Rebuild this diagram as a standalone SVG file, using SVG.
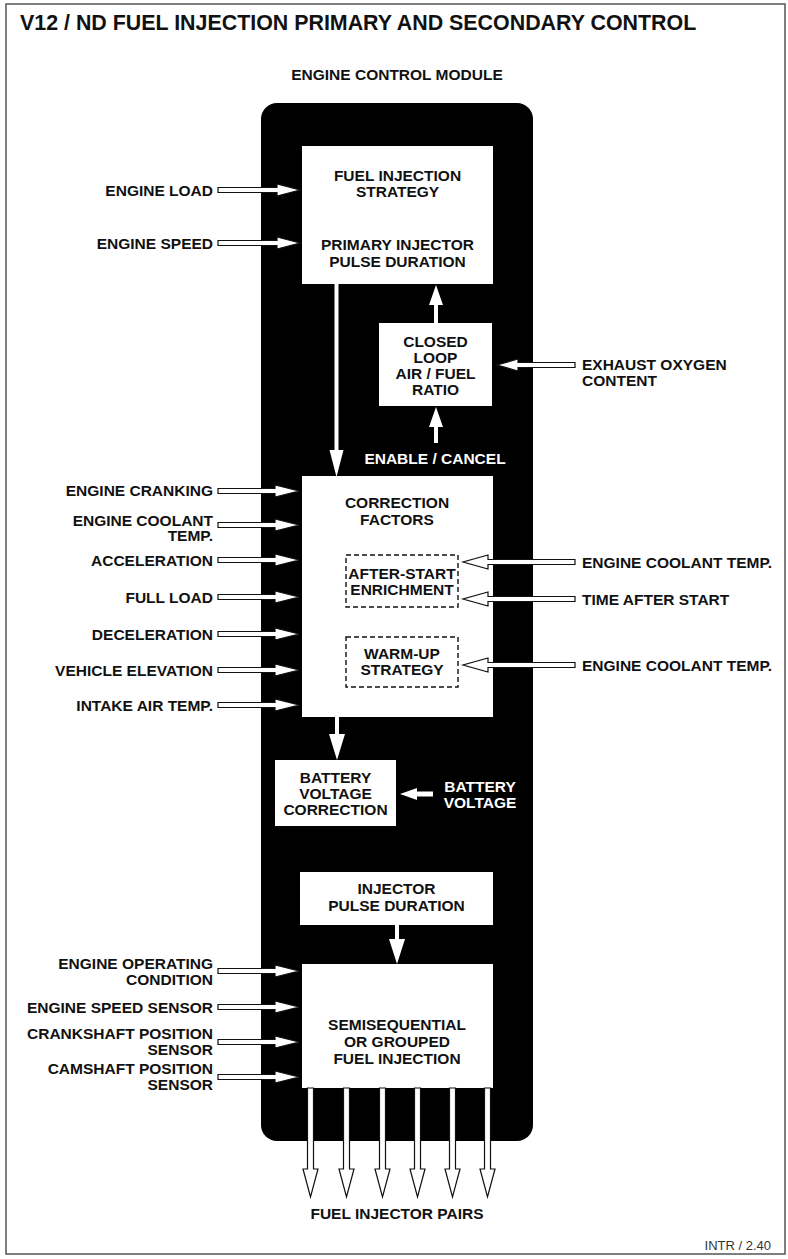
<svg xmlns="http://www.w3.org/2000/svg" width="788" height="1259" viewBox="0 0 788 1259">
<style>
text{font-family:"Liberation Sans",Arial,sans-serif;font-weight:bold;font-size:15.5px;fill:#111}
.c{text-anchor:middle}
.e{text-anchor:end}
.w{fill:#fff}
.box{fill:#fff}
.dash{fill:none;stroke:#111;stroke-width:1.4;stroke-dasharray:5,3}
.arr{fill:#fff;stroke:#111;stroke-width:1.2;stroke-linejoin:miter}
.sol{fill:#fff;stroke:none}
</style>
<rect x="6" y="4" width="779" height="1250" fill="#fff" stroke="#555" stroke-width="1.5"/>
<g id="title"><text x="20" y="30" style="font-size:21.4px">V12 / ND FUEL INJECTION PRIMARY AND SECONDARY CONTROL</text></g>
<g id="ecm">
<text class="c" x="397" y="80">ENGINE CONTROL MODULE</text>
<rect x="261" y="103" width="272" height="1038" rx="16" fill="#000"/>
</g>
<g id="fuel-injection-strategy">
<rect class="box" x="302" y="146" width="191" height="138"/>
<text class="c" x="397.5" y="181">FUEL INJECTION</text>
<text class="c" x="397.5" y="197">STRATEGY</text>
<text class="c" x="397.5" y="250">PRIMARY INJECTOR</text>
<text class="c" x="397.5" y="267">PULSE DURATION</text>
</g>
<g id="closed-loop">
<rect class="box" x="379" y="323" width="113" height="83"/>
<text class="c" x="435.5" y="346.5">CLOSED</text>
<text class="c" x="435.5" y="362.5">LOOP</text>
<text class="c" x="435.5" y="379">AIR / FUEL</text>
<text class="c" x="435.5" y="395">RATIO</text>
</g>
<g id="enable-cancel"><text class="c w" x="435" y="463.5">ENABLE / CANCEL</text></g>
<g id="correction-factors">
<rect class="box" x="302" y="476" width="191" height="241"/>
<text class="c" x="397" y="508">CORRECTION</text>
<text class="c" x="397" y="525">FACTORS</text>
</g>
<g id="after-start">
<rect class="dash" x="346" y="555" width="112" height="52"/>
<text class="c" x="402" y="578.5">AFTER-START</text>
<text class="c" x="402" y="595">ENRICHMENT</text>
</g>
<g id="warm-up">
<rect class="dash" x="346" y="637" width="112" height="50"/>
<text class="c" x="402" y="658.5">WARM-UP</text>
<text class="c" x="402" y="675">STRATEGY</text>
</g>
<g id="battery-correction">
<rect class="box" x="275" y="760" width="121" height="66"/>
<text class="c" x="335.5" y="782.5">BATTERY</text>
<text class="c" x="335.5" y="798.5">VOLTAGE</text>
<text class="c" x="335.5" y="815">CORRECTION</text>
</g>
<g id="battery-voltage">
<text class="c w" x="480" y="792">BATTERY</text>
<text class="c w" x="480" y="808">VOLTAGE</text>
</g>
<g id="injector-pulse">
<rect class="box" x="300" y="872" width="193" height="53"/>
<text class="c" x="396.5" y="894">INJECTOR</text>
<text class="c" x="396.5" y="911">PULSE DURATION</text>
</g>
<g id="semisequential">
<rect class="box" x="302" y="964" width="191" height="124"/>
<text class="c" x="397" y="1030">SEMISEQUENTIAL</text>
<text class="c" x="397" y="1047">OR GROUPED</text>
<text class="c" x="397" y="1064">FUEL INJECTION</text>
</g>
<g id="inputs-left">
<text class="e" x="213" y="195.5">ENGINE LOAD</text>
<text class="e" x="213" y="248.5">ENGINE SPEED</text>
<text class="e" x="213" y="496">ENGINE CRANKING</text>
<text class="e" x="213" y="525.5">ENGINE COOLANT</text>
<text class="e" x="213" y="541">TEMP.</text>
<text class="e" x="213" y="565.5">ACCELERATION</text>
<text class="e" x="213" y="602.5">FULL LOAD</text>
<text class="e" x="213" y="639.5">DECELERATION</text>
<text class="e" x="213" y="675.5">VEHICLE ELEVATION</text>
<text class="e" x="213" y="710.5">INTAKE AIR TEMP.</text>
<text class="e" x="213" y="968.5">ENGINE OPERATING</text>
<text class="e" x="213" y="985">CONDITION</text>
<text class="e" x="213" y="1012.5">ENGINE SPEED SENSOR</text>
<text class="e" x="213" y="1038.5">CRANKSHAFT POSITION</text>
<text class="e" x="213" y="1055">SENSOR</text>
<text class="e" x="213" y="1073.5">CAMSHAFT POSITION</text>
<text class="e" x="213" y="1090">SENSOR</text>
</g>
<g id="inputs-right">
<text x="582" y="369.5">EXHAUST OXYGEN</text>
<text x="582" y="386">CONTENT</text>
<text x="582" y="568">ENGINE COOLANT TEMP.</text>
<text x="582" y="605">TIME AFTER START</text>
<text x="582" y="670.5">ENGINE COOLANT TEMP.</text>
</g>
<g id="outputs"><text class="c" x="397" y="1219">FUEL INJECTOR PAIRS</text></g>
<g id="ref"><text x="771" y="1250" style="font-weight:normal;font-size:13px;fill:#333;text-anchor:end">INTR / 2.40</text></g>
<g id="connectors">
<path class="arr" d="M218,187.5 H277 V184 L300,190 L277,196 V192.5 H218 Z"/>
<path class="arr" d="M218,240.5 H277 V237 L300,243 L277,249 V245.5 H218 Z"/>
<path class="arr" d="M218,488.5 H275 V485 L299,491 L275,497 V493.5 H218 Z"/>
<path class="arr" d="M218,522.5 H275 V519 L299,525 L275,531 V527.5 H218 Z"/>
<path class="arr" d="M218,557.5 H275 V554 L299,560 L275,566 V562.5 H218 Z"/>
<path class="arr" d="M218,594.5 H275 V591 L299,597 L275,603 V599.5 H218 Z"/>
<path class="arr" d="M218,631.5 H275 V628 L299,634 L275,640 V636.5 H218 Z"/>
<path class="arr" d="M218,667.5 H275 V664 L299,670 L275,676 V672.5 H218 Z"/>
<path class="arr" d="M218,702.5 H275 V699 L299,705 L275,711 V707.5 H218 Z"/>
<path class="arr" d="M218,968.5 H275 V965 L299,971 L275,977 V973.5 H218 Z"/>
<path class="arr" d="M218,1004.5 H275 V1001 L299,1007 L275,1013 V1009.5 H218 Z"/>
<path class="arr" d="M218,1039.5 H275 V1036 L299,1042 L275,1048 V1044.5 H218 Z"/>
<path class="arr" d="M218,1074.5 H275 V1071 L299,1077 L275,1083 V1079.5 H218 Z"/>
<path class="sol" d="M334.5,284 H338.5 V450 H343.5 L336.5,477 L329.5,450 H334.5 Z"/>
<path class="sol" d="M434,323 V305 H429 L436,285 L443,305 H438 V323 Z"/>
<path class="sol" d="M434,443 V427 H429 L436,407 L443,427 H438 V443 Z"/>
<path class="sol" d="M335,717 V734 H329 L337,760 L345,734 H339 V717 Z"/>
<path class="sol" d="M395,925 V939 H389 L397,964 L405,939 H399 V925 Z"/>
<path class="sol" d="M433,791.5 H417 V788 L400,794 L417,800 V796.5 H433 Z"/>
<path class="arr" d="M575,362.5 H518 V359 L497,365 L518,371 V367.5 H575 Z"/>
<path class="arr" d="M575,559.5 H488 V555 L463,562 L488,569 V564.5 H575 Z"/>
<path class="arr" d="M575,596.5 H488 V592 L463,599 L488,606 V601.5 H575 Z"/>
<path class="arr" d="M575,662.5 H488 V658 L463,665 L488,672 V667.5 H575 Z"/>
<path class="arr" d="M307.5,1088 V1169 H303 L310.5,1197 L318,1169 H313.5 V1088 Z"/>
<path class="arr" d="M343.5,1088 V1169 H339 L346.5,1197 L354,1169 H349.5 V1088 Z"/>
<path class="arr" d="M379.5,1088 V1169 H375 L382.5,1197 L390,1169 H385.5 V1088 Z"/>
<path class="arr" d="M414.5,1088 V1169 H410 L417.5,1197 L425,1169 H420.5 V1088 Z"/>
<path class="arr" d="M449.5,1088 V1169 H445 L452.5,1197 L460,1169 H455.5 V1088 Z"/>
<path class="arr" d="M484.5,1088 V1169 H480 L487.5,1197 L495,1169 H490.5 V1088 Z"/>
</g>
</svg>
